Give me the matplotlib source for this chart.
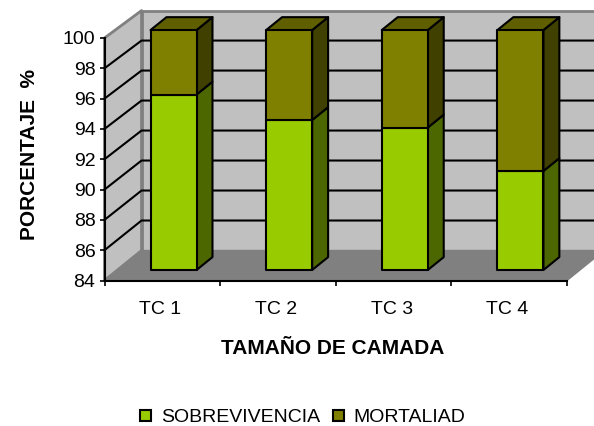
import matplotlib
matplotlib.use('Agg')
import matplotlib.pyplot as plt
from matplotlib.patches import Polygon, Patch

categorias = ['TC 1', 'TC 2', 'TC 3', 'TC 4']
sobrevivencia = [95.7, 94.0, 93.5, 90.6]
mortalidad = [4.3, 6.0, 6.5, 9.4]
y_ticks = [84, 86, 88, 90, 92, 94, 96, 98, 100]

VERDE = '#99CC00'
VERDE_LADO = '#4C6600'
OLIVA = '#808000'
OLIVA_LADO = '#404000'
OLIVA_TOPE = '#5F5F00'
PARED = '#C0C0C0'
PISO = '#808080'

# profundidad del grafico 3D, en unidades de los ejes
DX = 37 / 115.5
DY = 30 / 15.16
ESCALA = 15 / 15.16
Y0 = 84


def pt(x, v, d=0.0):
    s = ESCALA if d > 0 else 1.0
    return (x + DX * d, Y0 + (v - Y0) * s + DY * d)


def poly(ax, puntos, color, ec='black', lw=1.5, z=2):
    ax.add_patch(Polygon(puntos, closed=True, fc=color, ec=ec, lw=lw,
                         zorder=z, clip_on=False, joinstyle='round'))


def barra(ax, x0, x1, v0, v1, d0, d1, frente, lado, tope, z):
    poly(ax, [pt(x1, v0, d0), pt(x1, v0, d1), pt(x1, v1, d1), pt(x1, v1, d0)], lado, z=z)
    if tope:
        poly(ax, [pt(x0, v1, d0), pt(x1, v1, d0), pt(x1, v1, d1), pt(x0, v1, d1)], tope, z=z)
    poly(ax, [pt(x0, v0, d0), pt(x1, v0, d0), pt(x1, v1, d0), pt(x0, v1, d0)], frente, z=z)


def main():
    plt.rcParams['font.family'] = ['Liberation Sans', 'DejaVu Sans']
    fig = plt.figure(figsize=(5.94, 4.26), dpi=100)
    ax = fig.add_axes([104.5 / 594, 1 - 280.5 / 426, 462.5 / 594, 242.5 / 426])
    ax.set_xlim(0, 4)
    ax.set_ylim(84, 100)

    # paredes y piso
    poly(ax, [pt(0, 84, 1), pt(4, 84, 1), pt(4, 100, 1), pt(0, 100, 1)], PARED, ec=PISO, lw=2, z=1)
    poly(ax, [pt(0, 84), pt(0, 100), pt(0, 100, 1), pt(0, 84, 1)], PARED, ec=PISO, lw=2, z=1)
    poly(ax, [pt(0, 84), pt(4, 84), pt(4, 84, 1), pt(0, 84, 1)], PISO, ec=PISO, lw=1, z=1)

    # lineas de division
    for v in y_ticks[1:-1]:
        xs, ys = zip(pt(0, v), pt(0, v, 1), pt(4, v, 1))
        ax.plot(xs, ys, color='black', lw=1.5, zorder=1.5, clip_on=False)

    # barras
    ancho = 0.398
    for i in range(len(categorias)):
        x0 = i + 0.485 - ancho / 2
        x1 = x0 + ancho
        d0, d1 = 0.35, 0.78
        tope = sobrevivencia[i] + mortalidad[i]
        barra(ax, x0, x1, 84, sobrevivencia[i], d0, d1, VERDE, VERDE_LADO, None, 3 + i)
        barra(ax, x0, x1, sobrevivencia[i], tope, d0, d1, OLIVA, OLIVA_LADO, OLIVA_TOPE, 3 + i)

    for lado in ['top', 'right']:
        ax.spines[lado].set_visible(False)
    for lado in ['left', 'bottom']:
        ax.spines[lado].set_linewidth(1.5)
        ax.spines[lado].set_zorder(20)
    ax.set_yticks(y_ticks)
    ax.set_yticklabels([str(t) for t in y_ticks], fontsize=14)
    ax.set_xticks(range(5))
    ax.set_xticklabels([])
    ax.set_xticks([i + 0.483 for i in range(4)], categorias, minor=True, fontsize=14)
    ax.tick_params(axis='x', which='minor', length=0, pad=15)
    ax.tick_params(axis='x', which='major', length=3.5, width=1.2)
    ax.tick_params(axis='y', length=3.5, width=1.2, pad=3)

    fig.text(30 / 594, 1 - 155 / 426, 'PORCENTAJE  %', rotation=90, fontsize=15,
             fontweight='bold', ha='center', va='center')
    fig.text(333 / 594, 1 - 348 / 426, 'TAMAÑO DE CAMADA', fontsize=15,
             fontweight='bold', ha='center', va='center')

    handles = [Patch(fc=VERDE, ec='black', lw=1.5), Patch(fc=OLIVA, ec='black', lw=1.5)]
    fig.legend(handles, ['SOBREVIVENCIA', 'MORTALIAD'], ncol=2, frameon=False,
               loc='center', bbox_to_anchor=(303 / 594, 1 - 418 / 426), fontsize=14,
               handlelength=0.55, handleheight=0.55, handletextpad=0.5, columnspacing=0.7,
               borderpad=0, labelspacing=0)

    fig.savefig('out.png', dpi=100)


if __name__ == "__main__":
    main()
